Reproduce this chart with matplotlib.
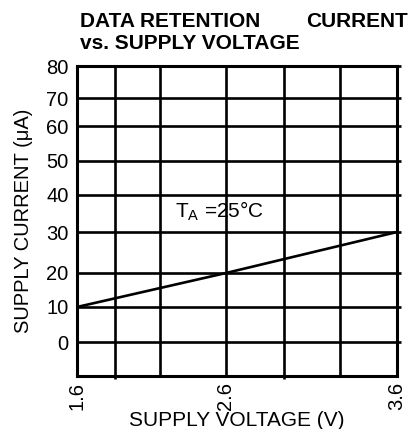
import numpy as np
import matplotlib
matplotlib.use('Agg')
import matplotlib.pyplot as plt

plt.rcParams['font.family'] = ['Liberation Sans', 'DejaVu Sans']
plt.rcParams['mathtext.fontset'] = 'custom'
plt.rcParams['mathtext.rm'] = 'Liberation Sans'

# data
voltage = [1.6, 2.6, 3.6]
current = [10, 20, 30]

x_ticks = [1.6, 2.6, 3.6]
x_grid = [1.6, 1.85, 2.15, 2.6, 2.95, 3.25, 3.6]
y_ticks = [0, 10, 20, 30, 40, 50, 60, 70, 80]

# the printed axes are not evenly spaced: map values to where the grid sits
x_anchor = [1.6, 1.85, 2.15, 2.6, 2.95, 3.25, 3.6]
x_pos = np.array([77, 115, 160, 226, 284, 340, 397], dtype=float)
y_anchor = [-10, 0, 10, 20, 30, 40, 50, 60, 70, 80]
y_pos = 376 - np.array([376, 342, 307, 273, 232, 195, 161, 126, 98, 66], dtype=float)


def fx(v):
    return np.interp(v, x_anchor, x_pos)


def fx_inv(p):
    return np.interp(p, x_pos, x_anchor)


def fy(v):
    return np.interp(v, y_anchor, y_pos)


def fy_inv(p):
    return np.interp(p, y_pos, y_anchor)


fig = plt.figure(figsize=(4.12, 4.29), dpi=100)
ax = fig.add_axes([77 / 412, 1 - 376 / 429, 320 / 412, 310 / 429])
ax.set_xscale('function', functions=(fx, fx_inv))
ax.set_yscale('function', functions=(fy, fy_inv))
ax.set_xlim(1.6, 3.6)
ax.set_ylim(-10, 80)

# grid
for xv in x_grid[1:-1]:
    ax.axvline(xv, color='black', lw=1.9, zorder=1)
for yv in y_ticks[:-1]:
    ax.axhline(yv, color='black', lw=1.9, zorder=1)

ax.plot(voltage, current, color='black', lw=1.9, zorder=2)

for s in ax.spines.values():
    s.set_linewidth(2.2)

ax.set_xticks(x_ticks)
ax.set_xticklabels([f'{v:.1f}' for v in x_ticks], rotation=90, fontsize=14.5)
ax.set_yticks(y_ticks)
ax.set_yticklabels([str(v) for v in y_ticks], fontsize=14.5)
ax.tick_params(axis='both', length=0)
ax.tick_params(axis='x', pad=4)
ax.tick_params(axis='y', pad=6)

# little stubs outside the frame
ax.set_xticks([1.85, 2.95], minor=True)
ax.tick_params(axis='x', which='minor', direction='out', length=2.5, width=1.9)
ax.yaxis.set_ticks_position('both')
ax.tick_params(axis='y', which='major', right=True, direction='out')
for t in ax.yaxis.get_major_ticks():
    t.tick1line.set_visible(False)
    t.tick2line.set_markersize(3)
    t.tick2line.set_markeredgewidth(1.9)

ax.set_xlabel('SUPPLY VOLTAGE (V)', fontsize=15, va='center')
ax.xaxis.set_label_coords(0.5, -(420 - 376) / 310)
ax.set_ylabel('SUPPLY CURRENT (\u03bcA)', fontsize=14.5, va='center')
ax.yaxis.set_label_coords((24 - 77) / 320, 0.5)

# title
fig.text(80 / 412, 1 - 27 / 429, 'DATA RETENTION', fontsize=15, fontweight='bold')
fig.text(408 / 412, 1 - 27 / 429, 'CURRENT', fontsize=15, fontweight='bold', ha='right')
fig.text(80 / 412, 1 - 49 / 429, 'vs. SUPPLY VOLTAGE', fontsize=15, fontweight='bold')

# ambient temperature note
fig.text(175 / 412, 1 - 217 / 429, 'T$_\\mathrm{A}$ =25\u00b0C', fontsize=15)

fig.savefig('out.png', dpi=100)
